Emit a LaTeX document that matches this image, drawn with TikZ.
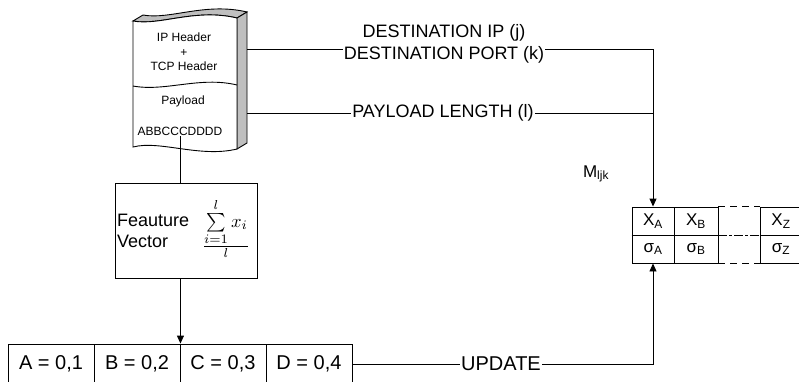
\documentclass[tikz,border=0pt]{standalone}
\usepackage{fontspec}
\setmainfont{Liberation Sans}
\usetikzlibrary{arrows.meta}

\tikzset{
  link/.style = {line width = 0.9pt},
  tip/.style = {link,-{Triangle[length = 8pt, width = 7pt]}},
  lbl/.style = {font = \fontsize{18}{22}\selectfont, inner sep = 1pt},
  vcell/.style = {draw, line width = 0.9pt, minimum width = 86pt, minimum height = 40pt, inner sep = 0pt, font = \fontsize{20}{22}\selectfont},
  mcell/.style = {draw, line width = 0.9pt, minimum width = 42pt, minimum height = 28pt, inner sep = 0pt, font = \fontsize{17}{19}\selectfont},
  pkttext/.style = {align = center, inner sep = 1pt, font = \fontsize{12}{14.5}\selectfont}
}

\begin{document}
\begin{tikzpicture}[x = 1pt, y = -1pt]
  \useasboundingbox (0,0) rectangle (799,381);

  \filldraw[fill = black!25, line width = 0.9pt] (133,21) .. controls (160,26) and (195,8) .. (237,18) -- (247,12) .. controls (205,2) and (170,20) .. (143,15) -- cycle;
  \filldraw[fill = black!25, line width = 0.9pt] (237,18) -- (247,12) -- (247,143) -- (237,149) -- cycle;
  \filldraw[fill = white, line width = 0.9pt] (133,21) .. controls (160,26) and (195,8) .. (237,18) -- (237,149) .. controls (200,158) and (160,140) .. (133,147) -- cycle;
  \draw[line width = 0.9pt] (133,86) .. controls (165,92) and (200,76) .. (237,85);

  \node[pkttext] (hdr) at (184,52) {IP Header\\+\\TCP Header};
  \node[pkttext] (payhd) at (183,101) {Payload};
  \node[pkttext] (pay) at (180,131) {ABBCCCDDDD};
  \coordinate (hdrport) at (247,49);
  \coordinate (payport) at (247,113);

  \node[draw, line width = 0.9pt, minimum width = 142pt, minimum height = 95pt] (fv) at (186,230.5) {};
  \node[anchor = west, align = left, inner sep = 0pt, font = \fontsize{18}{21}\selectfont] (fvtxt) at (117,231) {Feauture\\Vector};
  \node[inner sep = 0pt] (fvsum) at (226,228) {\scalebox{1.85}{$\frac{\textstyle\sum\limits_{i=1}^{l} x_i}{l}$}};

  \node[vcell] (ca) at (51,364) {A = 0,1};
  \node[vcell] (cb) at (137,364) {B = 0,2};
  \node[vcell] (cc) at (223,364) {C = 0,3};
  \node[vcell] (cd) at (309,364) {D = 0,4};

  \node[mcell] (ma) at (653,221) {X\textsubscript{A}};
  \node[mcell, minimum width = 44pt] (mb) at (696,221) {X\textsubscript{B}};
  \node[mcell] (mz) at (781,221) {X\textsubscript{Z}};
  \node[mcell] (sa) at (653,249) {σ\textsubscript{A}};
  \node[mcell, minimum width = 44pt] (sb) at (696,249) {σ\textsubscript{B}};
  \node[mcell] (sz) at (781,249) {σ\textsubscript{Z}};
  \draw[link, dashed, dash pattern = on 7pt off 5pt] (mb.north east) -- (mz.north west);
  \draw[link, dashed, dash pattern = on 7pt off 5pt] (sb.south east) -- (sz.south west);
  \draw[line width = 1.4pt, dash pattern = on 9pt off 2pt on 3pt off 2pt] (mb.south east) -- (mz.south west);
  \draw[line width = 1.4pt] (ma.south west) -- (mb.south east);
  \draw[line width = 1.4pt] (mz.south west) -- (mz.south east);
  \node[inner sep = 0pt, font = \fontsize{17}{19}\selectfont] (mlbl) at (596,174) {M\textsubscript{ljk}};

  \node[lbl, align = center] (dst) at (444,44) {DESTINATION IP (j)\\DESTINATION PORT (k)};
  \node[lbl] (plen) at (443,113) {PAYLOAD LENGTH (l)};
  \node[lbl, font = \fontsize{20}{22}\selectfont] (upd) at (501,364) {UPDATE};

  \draw[link] (hdrport) -- (hdrport -| dst.west);
  \draw[tip] (hdrport -| dst.east) -- (hdrport -| ma.north) -- (ma.north);
  \draw[link] (payport) -- (plen.west);
  \draw[link] (plen.east) -- (plen.east -| ma.north);
  \draw[link] (pay.south) -- (pay.south |- fv.north);
  \draw[tip] (fv.south -| cb.north east) -- (cb.north east);
  \draw[link] (cd.east) -- (upd.west);
  \draw[tip] (upd.east) -- (upd.east -| sa.south) -- (sa.south);
\end{tikzpicture}
\end{document}
